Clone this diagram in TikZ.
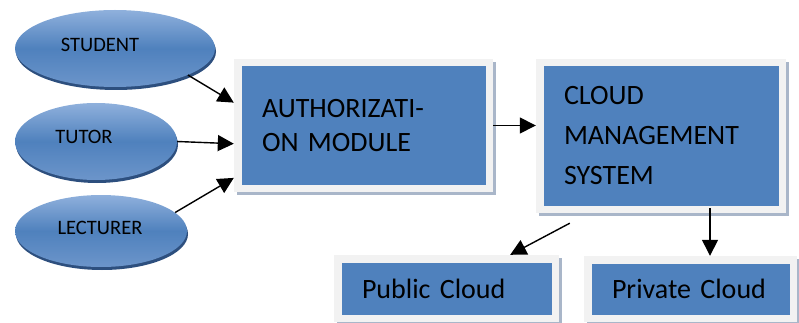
\documentclass[tikz,border=0pt]{standalone}
\usepackage{fontspec}
\setmainfont{Carlito}
\usetikzlibrary{shapes.geometric,arrows.meta,shadows}
\definecolor{boxblue}{HTML}{4F81BD}
\definecolor{framegray}{HTML}{F2F2F2}
\definecolor{boxshade}{HTML}{A9B6C9}
\definecolor{elltop}{HTML}{8FB0DC}
\definecolor{ellbot}{HTML}{6C95CA}
\definecolor{elldark}{HTML}{2D4F7E}
\tikzset{
  user/.style={ellipse, draw=none, top color=elltop, bottom color=ellbot, middle color=boxblue, inner sep=0pt,
    drop shadow={shadow xshift=1pt, shadow yshift=-3pt, fill=elldark, opacity=1}},
  usertext/.style={font=\fontsize{20.5}{24}\selectfont, inner sep=0pt},
  module/.style={rectangle, fill=framegray, inner xsep=28pt, inner ysep=0pt, align=left,
    font=\fontsize{28}{34}\selectfont,
    drop shadow={shadow xshift=3pt, shadow yshift=-3pt, fill=boxshade, opacity=1},
    path picture={\fill[boxblue] ([shift={(7.5pt,-7.5pt)}]path picture bounding box.north west) rectangle ([shift={(-7.5pt,7.5pt)}]path picture bounding box.south east);}},
  arr/.style={-{Triangle[length=16pt,width=16pt]}, line width=1.4pt}
}
\begin{document}
\begin{tikzpicture}[x=1pt, y=-1pt]
			\useasboundingbox (0,0) rectangle (799,323);
			% users
			\node[user, minimum width=200pt, minimum height=77pt] (stu) at (115,48.5) {};
			\node[user, minimum width=162pt, minimum height=77pt] (tut) at (96,141.5) {};
			\node[user, minimum width=172pt, minimum height=72pt] (lec) at (101,231) {};
			\node[usertext] (stut) at (100,45) {STUDENT};
			\node[usertext] (tutt) at (84,137) {TUTOR};
			\node[usertext] (lect) at (100,228) {LECTURER};
			% modules
			\node[module, minimum width=259pt, minimum height=133pt, text width=203pt] (auth) at (363.5,125.5) {AUTHORIZATI-\\ON MODULE};
			\node[module, minimum width=250pt, minimum height=154pt, text width=194pt, font=\fontsize{28}{40}\selectfont] (cms) at (661,136) {CLOUD\\MANAGEMENT\\SYSTEM};
			\node[module, minimum width=225pt, minimum height=67pt, text width=169pt] (pub) at (446.5,288.5) {Public Cloud};
			\node[module, minimum width=213pt, minimum height=66pt, text width=157pt] (priv) at (690.5,289) {Private Cloud};
			% connectors
			\draw[arr] (stu.-20) -- (auth.170);
			\draw[arr] (tut.east) -- (auth.188);
			\draw[arr] (lec.14) -- (auth.202);
			\draw[arr] (auth.east) -- (auth.east -| cms.west);
			\coordinate (cmsleft) at ([xshift=34pt,yshift=-10pt]cms.south west);
			\coordinate (cmsout) at ([xshift=49pt,yshift=5pt]cms.south);
			\draw[arr] (cmsleft) -- ([xshift=-49pt]pub.north east);
			\draw[arr] (cmsout) -- (cmsout |- priv.north);
\end{tikzpicture}
\end{document}
